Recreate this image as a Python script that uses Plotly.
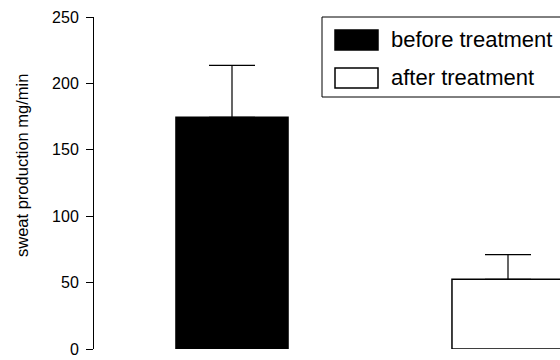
import plotly.graph_objects as go

# data
groups = ["before treatment", "after treatment"]
means = [174.5, 52.5]
errors = [39, 18.5]
fills = ["black", "white"]
y_ticks = [0, 50, 100, 150, 200, 250]
y_title = "sweat production mg/min"

W, H = 560, 360
L, R, T, B = 94, 0, 17, 11
PW, PH = W - L - R, H - T - B


def px(x):
    return (x - L) / PW


def py(y):
    return (H - B - y) / PH


fig = go.Figure()
for i, (g, m, e, c) in enumerate(zip(groups, means, errors, fills)):
    fig.add_trace(go.Bar(
        x=[i], y=[m], name=g, width=0.406,
        marker=dict(color=c, line=dict(color="black", width=1.5)),
        error_y=dict(type="data", symmetric=False, array=[e], arrayminus=[0],
                     color="black", thickness=1.2, width=23),
        showlegend=False,
    ))

font = "Liberation Sans, Arial, sans-serif"

shapes = [
    dict(type="rect", xref="paper", yref="paper", x0=px(322), x1=px(575),
         y0=py(97), y1=py(17), line=dict(color="black", width=1), fillcolor="white",
         layer="above"),
]
annotations = [
    dict(text=y_title, textangle=-90, xref="paper", yref="paper", x=px(22), y=py(166),
         xanchor="center", yanchor="middle", showarrow=False,
         font=dict(family=font, size=16.5, color="black")),
]
sw_y = [40, 78]
for i, (g, c) in enumerate(zip(groups, fills)):
    yc = sw_y[i]
    shapes.append(dict(type="rect", xref="paper", yref="paper", x0=px(335), x1=px(378),
                       y0=py(yc + 10), y1=py(yc - 10), fillcolor=c,
                       line=dict(color="black", width=1.5), layer="above"))
    annotations.append(dict(text=g, xref="paper", yref="paper", x=px(389), y=py(yc),
                            xanchor="left", yanchor="middle", showarrow=False,
                            font=dict(family=font, size=22, color="black")))

fig.update_layout(
    width=W, height=H,
    margin=dict(l=L, r=R, t=T, b=B, autoexpand=False),
    paper_bgcolor="white", plot_bgcolor="white",
    barmode="overlay",
    font=dict(family=font, color="black"),
    xaxis=dict(range=[-0.5, 1.1884], showticklabels=False, showline=False,
               showgrid=False, zeroline=False, ticks="", automargin=False),
    yaxis=dict(range=[0, 250], tickvals=y_ticks, showline=True, linecolor="black",
               linewidth=1, ticks="outside", ticklen=7, tickcolor="black",
               showgrid=False, zeroline=False, tickfont=dict(size=16, color="black"),
               ticklabelstandoff=4, ticklabeloverflow="allow", automargin=False),
    shapes=shapes,
    annotations=annotations,
)

fig.write_html("out.html", config={"displayModeBar": False},
               post_script="document.body.style.margin='0';document.body.style.overflow='hidden';")
